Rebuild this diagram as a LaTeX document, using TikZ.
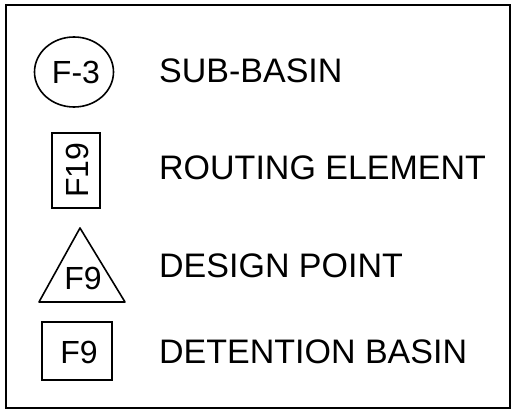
\documentclass[tikz,border=0pt]{standalone}
\usepackage{fontspec}
\setmainfont{Liberation Sans}
\begin{document}
\begin{tikzpicture}[x=1pt,y=-1pt,
  lbl/.style={anchor=west,inner sep=0pt,font=\fontsize{34}{38}\selectfont},
  sym/.style={inner sep=0pt,font=\fontsize{32}{36}\selectfont},
  shp/.style={line width=1.6pt}]
\useasboundingbox (0,0) rectangle (512,411);
\draw[line width=1.8pt] (6,5) rectangle (510,408);
% sub-basin
\draw[shp] (74,72) ellipse [x radius=39.5, y radius=35];
\node[sym] (c) at (76,72) {F-3};
\node[lbl] (l1) at (159,71) {SUB-BASIN};
% routing element
\draw[shp] (52,133) rectangle (100,208);
\node[sym,rotate=90] (r) at (77,170) {F19};
\node[lbl] (l2) at (159,168) {ROUTING ELEMENT};
% design point
\draw[shp,line join=round] (80,228) -- (125,302) -- (39,302) -- cycle;
\node[sym] (t) at (83,278) {F9};
\node[lbl] (l3) at (159,266) {DESIGN POINT};
% detention basin
\draw[shp] (42,322) rectangle (112,380);
\node[sym] (d) at (79,352) {F9};
\node[lbl] (l4) at (159,352) {DETENTION BASIN};
\end{tikzpicture}
\end{document}
